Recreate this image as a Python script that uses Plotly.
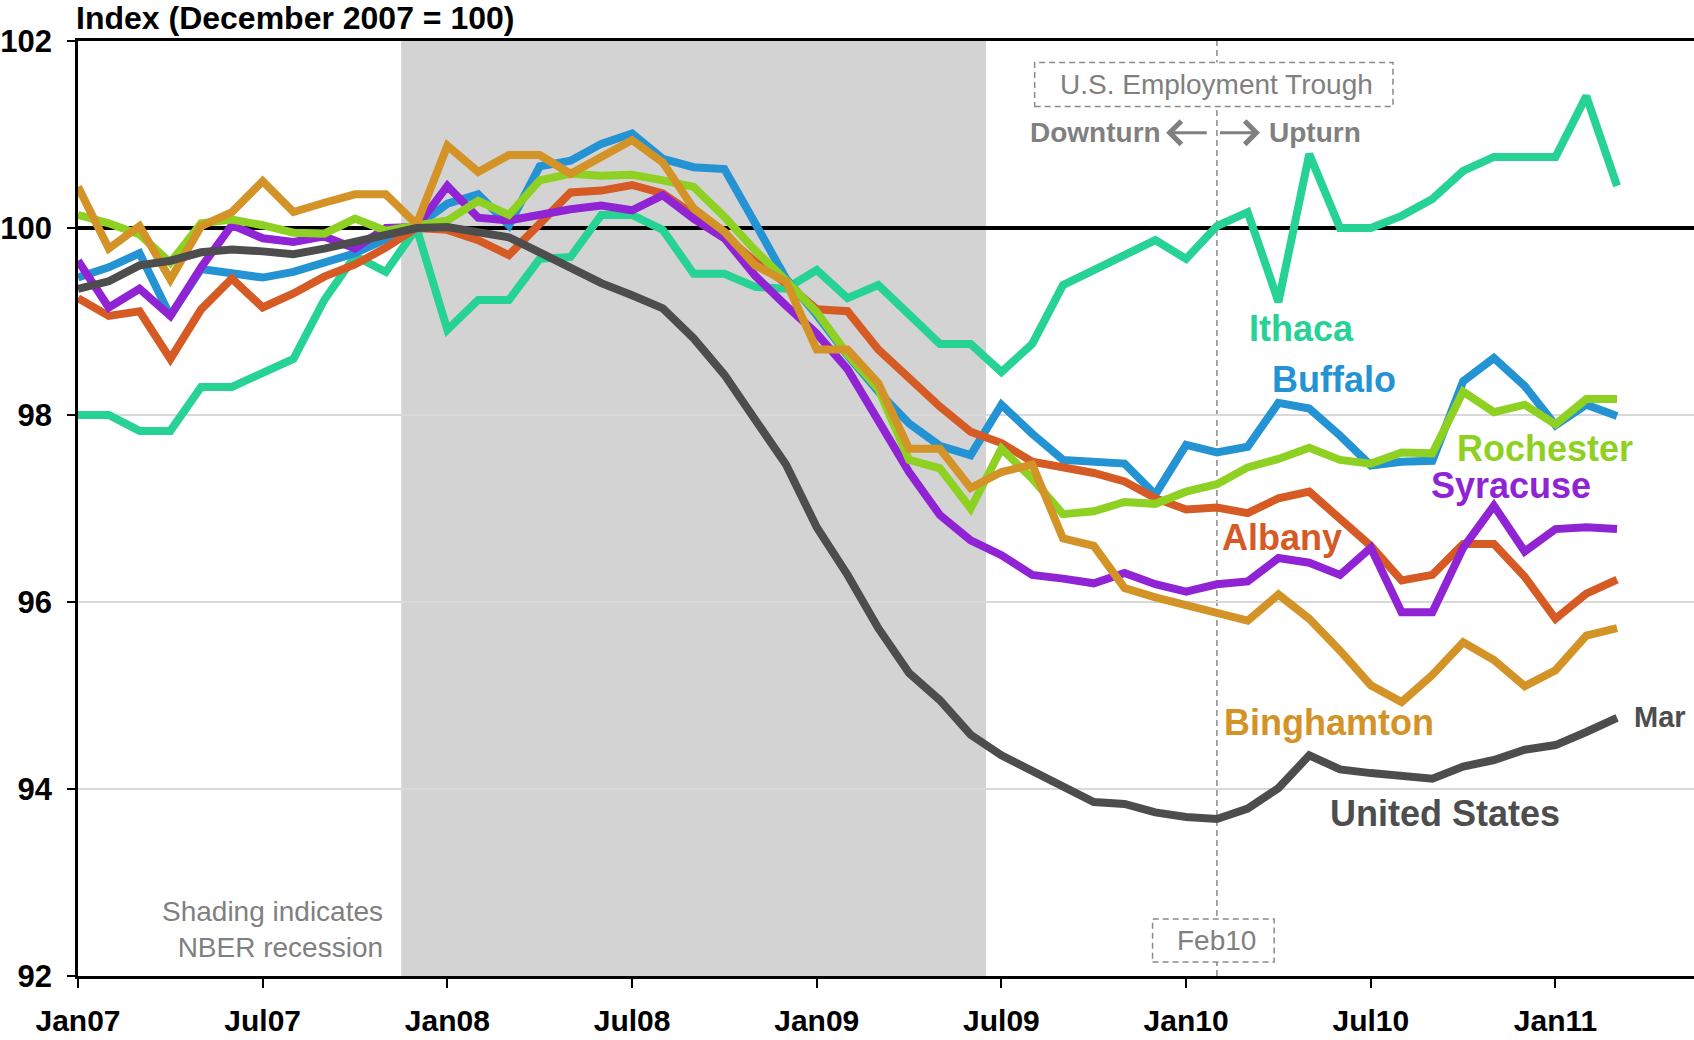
import plotly.graph_objects as go
import pandas as pd

# ---- categories (monthly, Jan 2007 - Mar 2011) ----
months = pd.date_range("2007-01-01", "2011-03-01", freq="MS").strftime("%b%y").tolist()

# ---- series values: index, December 2007 = 100 ----
ithaca = [98.0, 98.0, 97.83, 97.83, 98.3, 98.3, 98.45, 98.6, 99.23, 99.7, 99.53, 100.0,
          98.91, 99.23, 99.23, 99.67, 99.69, 100.14, 100.14, 99.98, 99.51, 99.51, 99.37, 99.35,
          99.55, 99.25, 99.39, 99.08, 98.76, 98.76, 98.46, 98.76, 99.39, 99.55, 99.71, 99.87,
          99.67, 100.02, 100.17, 99.21, 100.79, 100.0, 100.0, 100.13, 100.31, 100.61, 100.76, 100.76,
          100.76, 101.41, 100.45]
buffalo = [99.47, 99.58, 99.73, 99.06, 99.56, 99.51, 99.47, 99.53, 99.62, 99.73, 99.88, 100.02,
           100.26, 100.36, 100.03, 100.66, 100.72, 100.9, 101.01, 100.74, 100.65, 100.63, 100.05, 99.46,
           99.07, 98.64, 98.25, 97.91, 97.67, 97.57, 98.11, 97.8, 97.52, 97.5, 97.48, 97.15,
           97.68, 97.6, 97.66, 98.13, 98.07, 97.78, 97.46, 97.5, 97.51, 98.36, 98.61, 98.31,
           97.89, 98.11, 97.99]
albany = [99.25, 99.06, 99.11, 98.6, 99.13, 99.46, 99.15, 99.3, 99.48, 99.61, 99.79, 100.0,
          99.98, 99.87, 99.71, 100.05, 100.38, 100.4, 100.46, 100.37, 100.14, 99.92, 99.64, 99.41,
          99.13, 99.11, 98.7, 98.39, 98.09, 97.82, 97.7, 97.5, 97.44, 97.38, 97.29, 97.11,
          96.99, 97.01, 96.95, 97.11, 97.18, 96.89, 96.6, 96.23, 96.29, 96.62, 96.62, 96.27,
          95.82, 96.09, 96.24]
syracuse = [99.65, 99.15, 99.35, 99.06, 99.58, 100.03, 99.89, 99.85, 99.91, 99.78, 100.0, 100.01,
            100.45, 100.11, 100.08, 100.15, 100.2, 100.24, 100.19, 100.35, 100.1, 99.89, 99.49, 99.17,
            98.87, 98.49, 97.96, 97.39, 96.93, 96.66, 96.5, 96.29, 96.25, 96.2, 96.31, 96.19,
            96.11, 96.19, 96.22, 96.47, 96.42, 96.29, 96.58, 95.89, 95.89, 96.58, 97.03, 96.54,
            96.78, 96.8, 96.78]
rochester = [100.14, 100.05, 99.93, 99.63, 100.05, 100.09, 100.03, 99.95, 99.94, 100.1, 99.97, 100.02,
             100.08, 100.29, 100.14, 100.51, 100.58, 100.56, 100.57, 100.51, 100.44, 100.12, 99.76, 99.44,
             99.1, 98.65, 98.28, 97.52, 97.43, 97.0, 97.64, 97.32, 96.94, 96.97, 97.07, 97.05,
             97.18, 97.26, 97.44, 97.53, 97.65, 97.52, 97.48, 97.6, 97.59, 98.25, 98.03, 98.11,
             97.9, 98.17, 98.17]
binghamton = [100.44, 99.78, 100.02, 99.45, 100.02, 100.17, 100.5, 100.17, 100.27, 100.36, 100.36, 100.04,
              100.88, 100.6, 100.78, 100.78, 100.58, 100.76, 100.94, 100.7, 100.21, 99.96, 99.6, 99.43,
              98.7, 98.7, 98.34, 97.64, 97.64, 97.22, 97.39, 97.47, 96.68, 96.6, 96.15, 96.05,
              95.96, 95.89, 95.8, 96.08, 95.82, 95.48, 95.11, 94.93, 95.22, 95.57, 95.38, 95.1,
              95.27, 95.64, 95.72]
united_states = [99.35, 99.43, 99.6, 99.65, 99.74, 99.77, 99.75, 99.72, 99.78, 99.85, 99.94, 100.0,
                 100.01, 99.96, 99.9, 99.74, 99.57, 99.41, 99.28, 99.14, 98.82, 98.43, 97.95, 97.47,
                 96.8, 96.29, 95.72, 95.24, 94.95, 94.58, 94.36, 94.2, 94.03, 93.86, 93.84, 93.75,
                 93.7, 93.68, 93.79, 94.01, 94.36, 94.21, 94.17, 94.13, 94.11, 94.24, 94.31, 94.42,
                 94.47, 94.61, 94.76]

y_ticks = [92, 94, 96, 98, 100, 102]
base_level = 100

FONT = "Liberation Sans, Arial, sans-serif"
GRAY = "#808080"
X_RANGE = [0, 52.5]

x = list(range(len(months)))
tickvals = x[::6]
ticktext = months[::6]

series = [
    ("Ithaca", ithaca, "#26D394"),
    ("Buffalo", buffalo, "#2393D4"),
    ("Albany", albany, "#D65A24"),
    ("Syracuse", syracuse, "#9023D4"),
    ("Rochester", rochester, "#8FD122"),
    ("Binghamton", binghamton, "#D39327"),
    ("United States", united_states, "#4D4D4D"),
]

fig = go.Figure()
# reference line at index = 100
fig.add_trace(go.Scatter(x=X_RANGE, y=[base_level, base_level], mode="lines",
                         line=dict(color="black", width=4), hoverinfo="skip", cliponaxis=False))
for name, vals, col in series:
    fig.add_trace(go.Scatter(x=x, y=vals, mode="lines", name=name,
                             line=dict(color=col, width=8), hoverinfo="skip"))

rec_start = months.index("Dec07") - 0.5
rec_end = months.index("Jun09") + 0.5
trough = months.index("Feb10")

shapes = [
    dict(type="rect", xref="x", yref="paper", x0=rec_start, x1=rec_end, y0=0, y1=1,
         fillcolor="#D3D3D3", line=dict(width=0), layer="between"),
    dict(type="line", xref="x", yref="paper", x0=trough, x1=trough, y0=0, y1=1,
         line=dict(color="#8a8a8a", width=1.5, dash="6px,4px"), layer="between"),
    dict(type="rect", xref="x", yref="y", x0=trough - 5.92, x1=trough + 5.72, y0=101.3, y1=101.77,
         fillcolor="white", line=dict(color="#8a8a8a", width=1.5, dash="6px,4px"), layer="between"),
    dict(type="rect", xref="x", yref="y", x0=trough - 2.09, x1=trough + 1.86, y0=92.15, y1=92.61,
         fillcolor="white", line=dict(color="#8a8a8a", width=1.5, dash="6px,4px"), layer="between"),
]

annotations = [
    dict(xref="paper", yref="paper", x=0, y=1, xanchor="left", yanchor="middle", yshift=23, xshift=-4,
         text="Index (December 2007 = 100)", showarrow=False,
         font=dict(family=FONT, size=32, color="black", weight="bold")),
    dict(xref="x", yref="y", x=9.98, y=92.5, xanchor="right", yanchor="middle", align="right",
         text="Shading indicates<br>NBER recession", showarrow=False,
         font=dict(family=FONT, size=28, color=GRAY)),
    dict(xref="x", yref="y", x=trough, y=101.535, xanchor="center", yanchor="middle",
         text="U.S. Employment Trough", showarrow=False,
         font=dict(family=FONT, size=28, color=GRAY)),
    dict(xref="x", yref="y", x=trough, y=92.38, xanchor="center", yanchor="middle",
         text="Feb10", showarrow=False, font=dict(family=FONT, size=28, color=GRAY)),
    dict(xref="x", yref="y", x=35.25, y=101.02, xanchor="right", yanchor="middle",
         text="Downturn", showarrow=False, font=dict(family=FONT, size=28, color=GRAY, weight="bold")),
    dict(xref="x", yref="y", x=38.62, y=101.02, xanchor="left", yanchor="middle",
         text="Upturn", showarrow=False, font=dict(family=FONT, size=28, color=GRAY, weight="bold")),
    dict(xref="x", yref="y", axref="x", ayref="y", x=35.35, y=101.02, ax=36.72, ay=101.02,
         text="", showarrow=True, arrowhead=4, arrowsize=1.5, arrowwidth=3, arrowcolor=GRAY),
    dict(xref="x", yref="y", axref="x", ayref="y", x=38.4, y=101.02, ax=37.05, ay=101.02,
         text="", showarrow=True, arrowhead=4, arrowsize=1.5, arrowwidth=3, arrowcolor=GRAY),
]

label_pos = {
    "Ithaca": (39.75, 98.93),
    "Buffalo": (40.8, 98.38),
    "Rochester": (47.65, 97.64),
    "Syracuse": (46.55, 97.25),
    "Albany": (39.12, 96.69),
    "Binghamton": (40.65, 94.71),
    "United States": (44.4, 93.74),
}
for name, vals, col in series:
    lx, ly = label_pos[name]
    annotations.append(dict(xref="x", yref="y", x=lx, y=ly, xanchor="center", yanchor="middle",
                            text=name, showarrow=False,
                            font=dict(family=FONT, size=36, color=col, weight="bold")))
annotations.append(dict(xref="x", yref="y", x=50.5, y=94.77, xanchor="left", yanchor="middle",
                        text=months[-1][:3], showarrow=False,
                        font=dict(family=FONT, size=29, color="#4D4D4D", weight="bold")))

fig.update_layout(
    width=1694, height=1040,
    margin=dict(l=78, r=0, t=41, b=64, autoexpand=False),
    plot_bgcolor="white", paper_bgcolor="white",
    showlegend=False,
    font=dict(family=FONT),
    shapes=shapes, annotations=annotations,
    xaxis=dict(range=X_RANGE, tickvals=tickvals, ticktext=ticktext, automargin=False,
               ticks="outside", ticklen=9, tickwidth=2, tickcolor="black",
               showline=True, linecolor="black", linewidth=2.5, mirror=True,
               showgrid=False, zeroline=False, ticklabelstandoff=7,
               tickfont=dict(family=FONT, size=30, color="black", weight="bold")),
    yaxis=dict(range=[92, 102], tickvals=y_ticks, ticktext=[str(v) for v in y_ticks],
               automargin=False,
               ticks="outside", ticklen=8, tickwidth=2, tickcolor="black",
               showline=True, linecolor="black", linewidth=2.5,
               showgrid=True, gridcolor="#d9d9d9", gridwidth=1.5, zeroline=False,
               ticklabelstandoff=9,
               tickfont=dict(family=FONT, size=31, color="black", weight="bold")),
)

# remove the page's default body margin so the figure fills the window exactly
fig.write_html("out.html", config={"displayModeBar": False},
               post_script="document.body.style.margin='0px';")
